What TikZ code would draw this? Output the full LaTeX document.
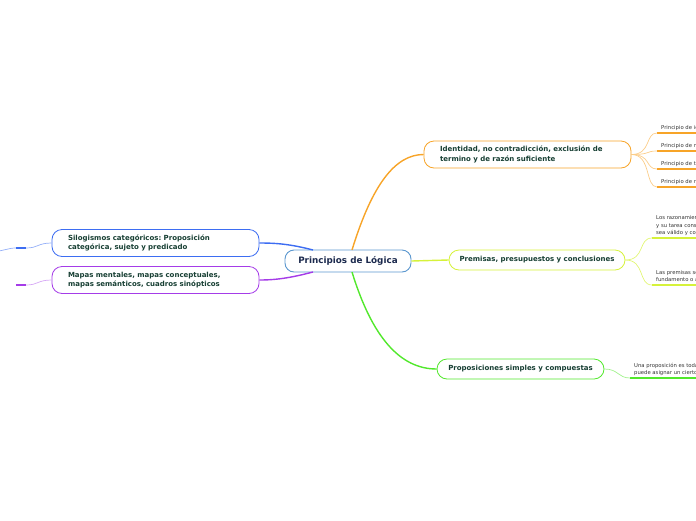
\documentclass[tikz,border=0pt]{standalone}
\usepackage{fontspec}
\setmainfont{DejaVu Sans}
\usepackage{xcolor}
\usetikzlibrary{positioning}
\frenchspacing
\definecolor{mmroot}{HTML}{5B97CF}
\definecolor{mmnavy}{HTML}{1C2A4E}
\definecolor{mmtext}{HTML}{173F33}
\definecolor{mmgray}{HTML}{333333}
\definecolor{mmorange}{HTML}{F7A428}
\definecolor{mmyellow}{HTML}{D6F23A}
\definecolor{mmgreen}{HTML}{52E82C}
\definecolor{mmblue}{HTML}{3D6DF2}
\definecolor{mmpurple}{HTML}{A53CE8}

\begin{document}
\begin{tikzpicture}[x=1pt,y=-1pt,
  rootBox/.style ={draw=mmroot, fill=white, rounded corners=9pt, line width=0.9pt,
                   minimum width=126pt, minimum height=22pt,
                   font=\fontsize{8.8}{10}\selectfont\bfseries\color{mmnavy}},
  topicBox/.style={fill=white, rounded corners=10pt, line width=0.8pt,
                   minimum height=20pt, inner xsep=6pt,
                   font=\fontsize{7}{9.2}\selectfont\bfseries\color{mmtext}},
  wideBox/.style ={topicBox, minimum height=27pt, text width=175pt,
                   inner xsep=16pt, align=left},
  leafTxt/.style ={anchor=south west, inner xsep=4pt, inner ysep=2pt, align=left,
                   font=\fontsize{5.3}{7.6}\selectfont\color{mmgray}},
  mainLink/.style={line width=1.4pt},
  leafLink/.style={line width=0.7pt},
  leafLine/.style={line width=1.3pt},
]
\useasboundingbox (0,0) rectangle (696,520);
\clip (0,0) rectangle (696,520);
% central topic and its five branches
\node[rootBox] (root) at (348,261) {Principios de Lógica};
\node[wideBox, draw=mmorange]  (ident) at (527.5,154.5) {Identidad, no contradicción, exclusión de\\termino y de razón suficiente};
\node[topicBox, draw=mmyellow, minimum width=176pt] (prem) at (537,260) {Premisas, presupuestos y conclusiones};
\node[topicBox, draw=mmgreen,  minimum width=167pt] (prop) at (520.5,369) {Proposiciones simples y compuestas};
\node[wideBox, draw=mmblue]    (silo) at (155.5,243) {Silogismos categóricos: Proposición\\categórica, sujeto y predicado};
\node[wideBox, draw=mmpurple]  (mapa) at (155.5,280) {Mapas mentales, mapas conceptuales,\\mapas semánticos, cuadros sinópticos};
\draw[mainLink, mmorange] (352,250) .. controls (372,185) and (395,154.5) .. (ident.west);
\draw[mainLink, mmyellow] (root.east) -- (prem.west);
\draw[mainLink, mmgreen]  (352,272) .. controls (372,337) and (400,369) .. (prop.west);
\draw[mainLink, mmblue]   (313,250) .. controls (290,244) and (276,243) .. (silo.east);
\draw[mainLink, mmpurple] (313,272) .. controls (290,278) and (276,280) .. (mapa.east);
% leaves of the first branch
\foreach \i/\yy/\txt in {%
  1/133/Principio de identidad,
  2/151/Principio de no contradicción,
  3/169/Principio de tercero excluido,
  4/187/Principio de razón suficiente%
} {
  \node[leafTxt] (idl\i) at (657,\yy) {\txt};
  \draw[leafLine, mmorange] (idl\i.south west) -- (idl\i.south east);
  \draw[leafLink, mmorange!55] (ident.east) .. controls +(20,0) and +(-12,0) .. (idl\i.south west);
}
% leaves of the second branch
\node[leafTxt] (prl1) at (652,238) {Los razonamientos están formados por premisas\\y su tarea consiste en demostrar que un argumento\\sea válido y coherente};
\node[leafTxt] (prl2) at (652,285) {Las premisas son las proposiciones que sirven de\\fundamento o apoyo a la conclusión};
\foreach \n in {prl1,prl2} {
  \draw[leafLine, mmyellow] (\n.south west) -- (\n.south east);
  \draw[leafLink, mmyellow!70] (prem.east) .. controls +(20,0) and +(-14,0) .. (\n.south west);
}
% leaf of the third branch
\node[leafTxt] (ppl1) at (630,378) {Una proposición es toda expresión a la que se le\\puede asignar un cierto valor de verdad};
\draw[leafLine, mmgreen] (ppl1.south west) -- (ppl1.south east);
\draw[leafLink, mmgreen!55] (prop.east) .. controls +(14,0) and +(-12,0) .. (ppl1.south west);
% leaves on the left side
\node[inner sep=0, minimum width=10pt] (sgl1) at (21,248) {};
\node[inner sep=0, minimum width=10pt] (mpl1) at (21,285) {};
\coordinate (sgl2) at (-4,251);
\draw[leafLine, mmblue] (sgl1.west) -- (sgl1.east);
\draw[leafLine, mmpurple] (mpl1.west) -- (mpl1.east);
\draw[leafLink, mmblue!55] (silo.west) .. controls +(-14,0) and +(12,0) .. (sgl1.east);
\draw[leafLink, mmblue!55] (sgl1.west) .. controls +(-8,0) and +(8,0) .. (sgl2);
\draw[leafLink, mmpurple!45] (mapa.west) .. controls +(-14,0) and +(12,0) .. (mpl1.east);
\end{tikzpicture}
\end{document}
